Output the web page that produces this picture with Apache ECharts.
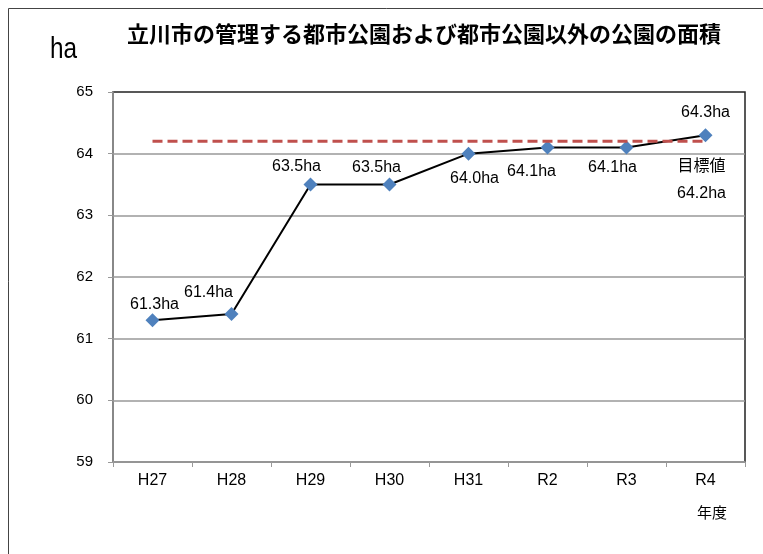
<!DOCTYPE html>
<html>
<head>
<meta charset="utf-8">
<script src="https://cdn.jsdelivr.net/npm/echarts@6/dist/echarts.min.js"></script>
<style>html,body{margin:0;padding:0;background:#fff}#c{width:763px;height:554px}</style>
</head>
<body>
<div id="c"></div>
<script>
const categories = ['H27','H28','H29','H30','H31','R2','R3','R4'];
const areaValues = [61.3, 61.4, 63.5, 63.5, 64.0, 64.1, 64.1, 64.3];
const targetValue = 64.2;
const yTicks = [59, 60, 61, 62, 63, 64, 65];
const labelOffsets = [[2,-16],[-23,-21],[-14,-18],[-13,-17],[6,25],[-16,24],[-14,20],[0,-23]];

const CJK = '"Noto Sans CJK JP", "Noto Sans", sans-serif';
const LAT = '"Liberation Sans", "Noto Sans CJK JP", sans-serif';
const chart = echarts.init(document.getElementById('c'));
chart.setOption({
  animation: false,
  backgroundColor: '#fff',
  title: {
    text: '立川市の管理する都市公園および都市公園以外の公園の面積',
    left: 419, top: 18, textAlign: 'center',
    textStyle: { fontFamily: CJK, fontSize: 22, fontWeight: 'bold', color: '#000' }
  },
  graphic: [
    { type: 'rect', shape: { x: 8.5, y: 8.5, width: 800, height: 600 }, style: { fill: 'none', stroke: '#444', lineWidth: 1 }, silent: true, z: -10 },
    { type: 'text', x: 50, y: 35, scaleX: 0.84, style: { text: 'ha', font: '29px "Liberation Sans", sans-serif', fill: '#000' } },
    { type: 'text', left: 697, top: 505, style: { text: '年度', font: '15px ' + CJK, fill: '#000' } }
  ],
  grid: { left: 113, top: 92, right: 18, bottom: 92, show: true, borderColor: '#222', borderWidth: 1.5, backgroundColor: '#fff' },
  xAxis: {
    type: 'category', data: categories, boundaryGap: true,
    axisLine: { lineStyle: { color: '#999', width: 1.5 } },
    axisTick: { show: true, length: 5, lineStyle: { color: '#999' } },
    axisLabel: { fontFamily: LAT, fontSize: 16, color: '#000', margin: 11 },
    splitLine: { show: false }
  },
  yAxis: {
    type: 'value', min: yTicks[0], max: yTicks[yTicks.length - 1], interval: 1,
    axisLine: { show: true, lineStyle: { color: '#999', width: 1.5 } },
    axisTick: { show: true, length: 5, lineStyle: { color: '#999' } },
    axisLabel: { fontFamily: LAT, fontSize: 15, color: '#000', margin: 20 },
    splitLine: { show: true, showMaxLine: false, lineStyle: { color: '#999', width: 1.5 } }
  },
  series: [
    {
      type: 'line', data: categories.map(() => targetValue), z: 3,
      symbol: 'none',
      lineStyle: { color: '#c0504d', width: 3, type: [10, 5] },
      label: { show: false }
    },
    {
      type: 'line', z: 2,
      data: categories.map((c, i) => ({ value: areaValues[i], label: { offset: labelOffsets[i] } })),
      symbol: 'diamond', symbolSize: 14,
      lineStyle: { color: '#000', width: 2 },
      itemStyle: { color: '#4f81bd' },
      label: {
        show: true, position: 'inside', align: 'center', verticalAlign: 'middle',
        fontFamily: LAT, fontSize: 16, color: '#000',
        formatter: p => p.value.toFixed(1) + 'ha'
      }
    },
    {
      type: 'line', z: 1, silent: true,
      data: categories.map((c, i) => i === categories.length - 1 ? targetValue : '-'),
      symbol: 'circle', symbolSize: 0, showSymbol: true, showAllSymbol: true,
      lineStyle: { width: 0 },
      itemStyle: { color: 'transparent' },
      label: {
        show: true, position: 'inside', align: 'center', verticalAlign: 'middle', offset: [-4, 39],
        fontFamily: LAT, fontSize: 16, color: '#000', lineHeight: 27,
        formatter: () => '目標値\n' + targetValue.toFixed(1) + 'ha'
      }
    }
  ]
});
</script>
</body>
</html>
